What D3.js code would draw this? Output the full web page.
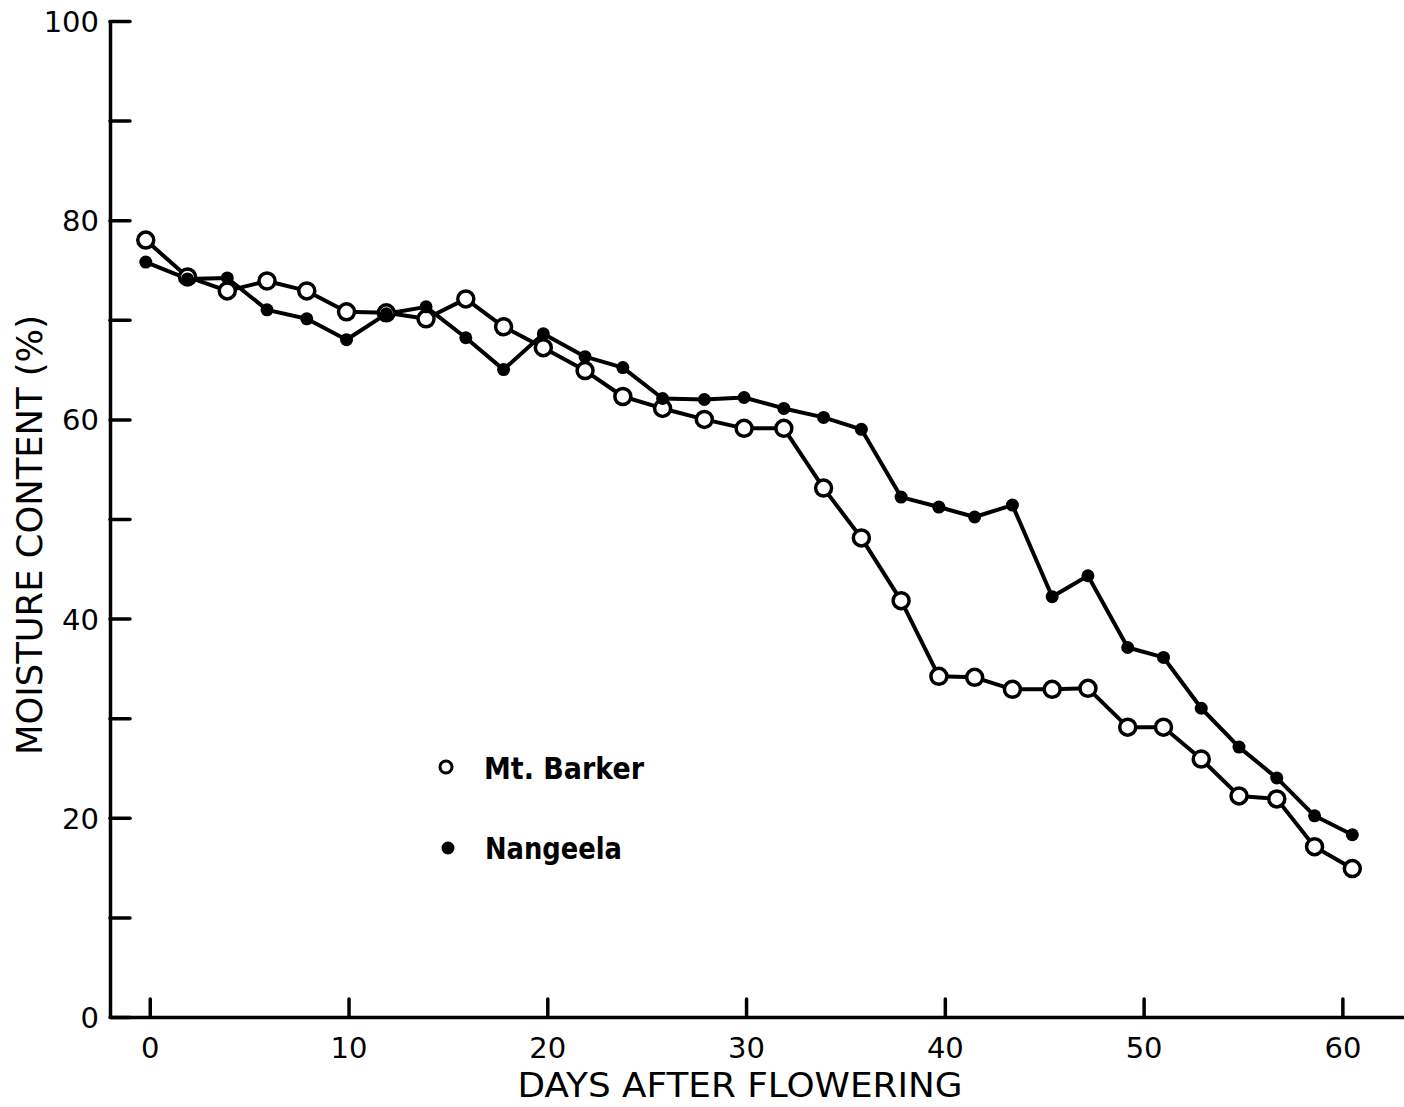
<!DOCTYPE html>
<html>
<head>
<meta charset="utf-8">
<script src="https://cdn.jsdelivr.net/npm/d3@7"></script>
<style>
  html, body { margin: 0; padding: 0; background: #fff; }
  svg { display: block; }
  text { font-family: "DejaVu Sans", sans-serif; fill: #000; }
</style>
</head>
<body>
<svg id="chart" width="1404" height="1107"></svg>
<script>
// Sampling days (days after flowering) for each measurement
const days = [-0.2, 1.9, 3.9, 5.9, 7.9, 9.9, 11.9, 13.9, 15.9, 17.8, 19.8, 21.9,
              23.8, 25.8, 27.9, 29.9, 31.9, 33.9, 35.8, 37.8, 39.7, 41.5, 43.4,
              45.4, 47.2, 49.2, 51.0, 52.9, 54.8, 56.7, 58.6, 60.5];

// Moisture content (%) per cultivar
const mtBarker = [78.0, 74.3, 72.9, 73.9, 72.9, 70.8, 70.7, 70.1, 72.1, 69.3, 67.2, 64.9,
                  62.3, 61.1, 60.0, 59.1, 59.1, 53.1, 48.1, 41.8, 34.2, 34.1, 32.9,
                  32.9, 33.0, 29.1, 29.1, 25.9, 22.2, 21.9, 17.1, 14.9];
const nangeela = [75.8, 74.1, 74.2, 71.0, 70.1, 68.0, 70.6, 71.3, 68.2, 65.0, 68.6, 66.3,
                  65.2, 62.1, 62.0, 62.2, 61.1, 60.2, 59.0, 52.2, 51.2, 50.2, 51.4,
                  42.2, 44.3, 37.1, 36.1, 31.0, 27.1, 24.0, 20.2, 18.3];

const seriesNames = ["Mt. Barker", "Nangeela"];
const xTickValues = [0, 10, 20, 30, 40, 50, 60];
const yTickValues = [0, 10, 20, 30, 40, 50, 60, 70, 80, 90, 100];
const yLabelValues = [0, 20, 40, 60, 80, 100];
const xTitle = "DAYS AFTER FLOWERING";
const yTitle = "MOISTURE CONTENT (%)";

const svg = d3.select("#chart");
const W = 1404, H = 1107;
const plotLeft = 110, plotBottom = 1017, plotTop = 21;

const x = d3.scaleLinear().domain([-2, 63.1]).range([plotLeft, W]);
const y = d3.scaleLinear().domain([0, 100]).range([plotBottom, plotTop]);

// Axes: ticks point inward, labels outside
const xAxis = d3.axisBottom(x)
  .tickValues(xTickValues)
  .tickSizeInner(-18)
  .tickSizeOuter(0)
  .tickPadding(20);
const yAxis = d3.axisLeft(y)
  .tickValues(yTickValues)
  .tickSizeInner(-20)
  .tickSizeOuter(0)
  .tickPadding(11)
  .tickFormat(d => yLabelValues.includes(d) ? d : "");

const gx = svg.append("g").attr("transform", `translate(0,${plotBottom})`).call(xAxis);
const gy = svg.append("g").attr("transform", `translate(${plotLeft},0)`).call(yAxis);

[gx, gy].forEach(g => {
  g.select(".domain").attr("stroke", "#000").attr("stroke-width", 3.5);
  g.selectAll(".tick line").attr("stroke", "#000").attr("stroke-width", 3.5)
    .attr("stroke-linecap", "round");
  g.selectAll(".tick text").attr("font-size", 29)
    .attr("font-family", "DejaVu Sans, sans-serif").attr("fill", "#000");
});
gy.selectAll(".tick text").attr("dy", "0.36em");

// Axis titles
svg.append("text")
  .attr("x", 740).attr("y", 1097)
  .attr("text-anchor", "middle")
  .attr("font-size", 33)
  .attr("textLength", 445).attr("lengthAdjust", "spacingAndGlyphs")
  .text(xTitle);

svg.append("text")
  .attr("transform", `translate(42,535) rotate(-90)`)
  .attr("text-anchor", "middle")
  .attr("font-size", 35)
  .attr("textLength", 440).attr("lengthAdjust", "spacingAndGlyphs")
  .text(yTitle);

// Data lines
const line = d3.line().x(d => x(d[0])).y(d => y(d[1]));
const ptsA = days.map((d, i) => [d, mtBarker[i]]);
const ptsB = days.map((d, i) => [d, nangeela[i]]);

svg.append("path").datum(ptsA).attr("d", line)
  .attr("fill", "none").attr("stroke", "#000").attr("stroke-width", 4)
  .attr("stroke-linejoin", "round");
svg.append("path").datum(ptsB).attr("d", line)
  .attr("fill", "none").attr("stroke", "#000").attr("stroke-width", 4)
  .attr("stroke-linejoin", "round");

// Open markers (Mt. Barker)
svg.append("g").selectAll("circle").data(ptsA).join("circle")
  .attr("cx", d => x(d[0])).attr("cy", d => y(d[1])).attr("r", 8)
  .attr("fill", "#fff").attr("stroke", "#000").attr("stroke-width", 3.5);

// Filled markers (Nangeela)
svg.append("g").selectAll("circle").data(ptsB).join("circle")
  .attr("cx", d => x(d[0])).attr("cy", d => y(d[1])).attr("r", 6.5)
  .attr("fill", "#000");

// Legend
const legend = svg.append("g");
legend.append("circle").attr("cx", 446).attr("cy", 767).attr("r", 6)
  .attr("fill", "#fff").attr("stroke", "#000").attr("stroke-width", 3);
legend.append("text").attr("x", 484).attr("y", 779)
  .attr("font-size", 31).attr("font-weight", "bold")
  .attr("textLength", 160).attr("lengthAdjust", "spacingAndGlyphs")
  .text(seriesNames[0]);
legend.append("circle").attr("cx", 448).attr("cy", 848).attr("r", 6.5)
  .attr("fill", "#000");
legend.append("text").attr("x", 485).attr("y", 859)
  .attr("font-size", 31).attr("font-weight", "bold")
  .attr("textLength", 137).attr("lengthAdjust", "spacingAndGlyphs")
  .text(seriesNames[1]);
</script>
</body>
</html>
